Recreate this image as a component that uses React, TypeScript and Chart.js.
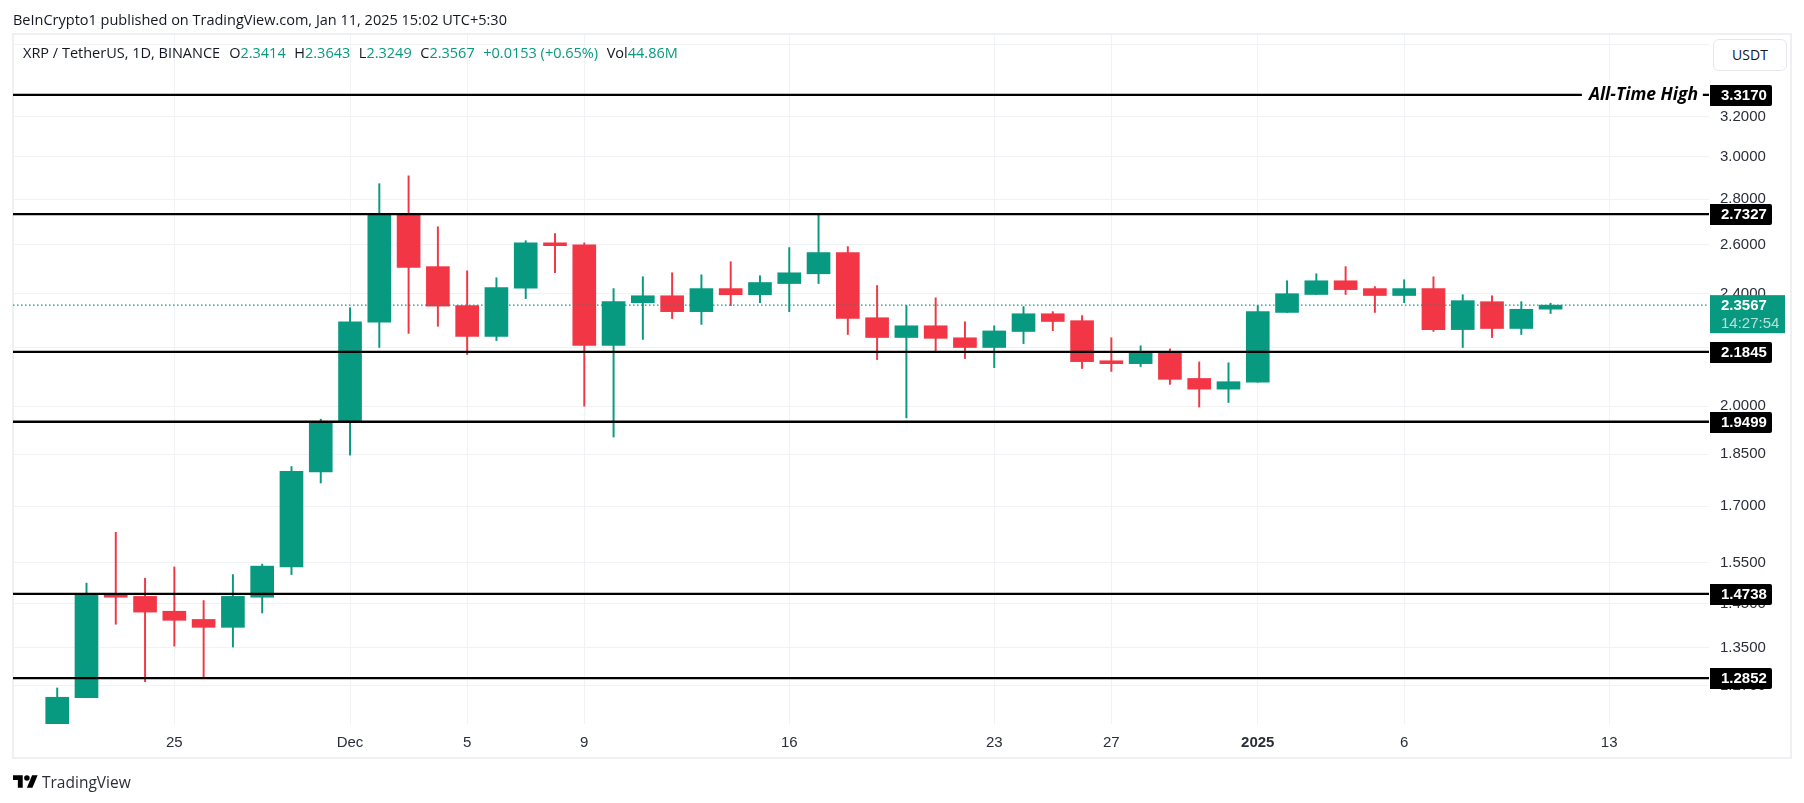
import { useEffect, useRef } from "react";
import { Chart, registerables } from "chart.js";

Chart.register(...registerables);

const GREEN = "#089981";
const RED = "#F23645";
const TEXT = "#131722";
const AXIS_TEXT = "#2a2e39";
const GRID = "#f0f2f6";
const UI_FONT = "'Open Sans', sans-serif";
const AXIS_FONT = "'Liberation Sans', Arial, sans-serif";

// daily candles, index 0 = Nov 21 2024
const opens = [1.185, 1.245, 1.474, 1.468, 1.433, 1.414, 1.396, 1.466, 1.54, 1.797, 1.953, 2.292, 2.73, 2.509, 2.355, 2.24, 2.423, 2.608, 2.6, 2.207, 2.366, 2.393, 2.332, 2.421, 2.397, 2.441, 2.48, 2.567, 2.309, 2.236, 2.279, 2.235, 2.2, 2.258, 2.324, 2.298, 2.153, 2.143, 2.1845, 2.092, 2.056, 2.079, 2.329, 2.398, 2.452, 2.421, 2.394, 2.421, 2.265, 2.37, 2.269, 2.3414];
const highs = [1.265, 1.5, 1.629, 1.512, 1.54, 1.458, 1.521, 1.547, 1.813, 1.958, 2.347, 2.871, 2.908, 2.677, 2.492, 2.464, 2.617, 2.647, 2.608, 2.421, 2.468, 2.484, 2.476, 2.529, 2.472, 2.588, 2.7285, 2.592, 2.433, 2.355, 2.385, 2.294, 2.279, 2.351, 2.332, 2.317, 2.235, 2.206, 2.195, 2.149, 2.146, 2.355, 2.452, 2.48, 2.509, 2.429, 2.456, 2.468, 2.397, 2.393, 2.37, 2.3643];
const lows = [1.18, 1.245, 1.403, 1.278, 1.354, 1.287, 1.352, 1.429, 1.521, 1.765, 1.847, 2.2, 2.251, 2.277, 2.175, 2.225, 2.382, 2.485, 2.0, 1.902, 2.229, 2.306, 2.284, 2.355, 2.366, 2.332, 2.441, 2.247, 2.157, 1.962, 2.188, 2.161, 2.129, 2.214, 2.261, 2.126, 2.116, 2.133, 2.072, 1.997, 2.012, 2.079, 2.329, 2.398, 2.398, 2.329, 2.366, 2.258, 2.2, 2.236, 2.247, 2.3249];
const closes = [1.246, 1.472, 1.466, 1.431, 1.412, 1.396, 1.468, 1.542, 1.799, 1.948, 2.294, 2.73, 2.506, 2.353, 2.24, 2.425, 2.608, 2.596, 2.207, 2.37, 2.393, 2.332, 2.421, 2.397, 2.445, 2.484, 2.567, 2.306, 2.236, 2.279, 2.233, 2.2, 2.26, 2.324, 2.295, 2.15, 2.143, 2.181, 2.089, 2.056, 2.081, 2.332, 2.401, 2.452, 2.417, 2.394, 2.421, 2.265, 2.374, 2.269, 2.341, 2.3567];

const priceTicks = [3.6, 3.2, 3.0, 2.8, 2.6, 2.4, 2.2, 2.0, 1.85, 1.7, 1.55, 1.45, 1.35, 1.27];
const dayTicks = [4, 10, 14, 18, 25, 32, 36, 41, 46, 53];
const dayNames = ["25", "Dec", "5", "9", "16", "23", "27", "2025", "6", "13"];

const levels = [3.317, 2.7327, 2.1845, 1.9499, 1.4738, 1.2852];
const lastPrice = 2.3567;
const countdown = "14:27:54";

// visible window of the axes
const xMin = -1.51;
const xMax = 56.41;
const yMin = 1.193;
const yMax = 3.662;

// the all-time-high line is broken around its caption
const athGapStart = 52.07;
const athGapEnd = 56.2;

const legendParts = [
  { text: "O", color: TEXT, gap: 9 },
  { text: "2.3414", color: GREEN, gap: 0 },
  { text: "H", color: TEXT, gap: 8.6 },
  { text: "2.3643", color: GREEN, gap: 0 },
  { text: "L", color: TEXT, gap: 8.6 },
  { text: "2.3249", color: GREEN, gap: 0 },
  { text: "C", color: TEXT, gap: 8.6 },
  { text: "2.3567", color: GREEN, gap: 0 },
  { text: "+0.0153 (+0.65%)", color: GREEN, gap: 8.6 },
  { text: "Vol", color: TEXT, gap: 8.6 },
  { text: "44.86M", color: GREEN, gap: 0 },
];

const tagsPlugin = {
  id: "tags",
  beforeDraw(chart: any) {
    const { ctx } = chart;
    ctx.save();
    ctx.strokeStyle = "#eef0f3";
    ctx.lineWidth = 2;
    ctx.strokeRect(13, 34, 1778, 724);
    ctx.restore();
  },
  afterDraw(chart: any) {
    const { ctx, scales } = chart;
    const y = scales.y;
    const x = scales.x;
    const left = x.right + 1;
    ctx.save();
    ctx.textBaseline = "middle";

    ctx.fillStyle = GREEN;
    const lastY = y.getPixelForValue(lastPrice);
    ctx.fillRect(left, lastY - 10, 75, 38);
    ctx.font = `bold 15px ${AXIS_FONT}`;
    ctx.fillStyle = "#ffffff";
    ctx.fillText(lastPrice.toFixed(4), left + 11, lastY + 1);
    ctx.font = `15px ${AXIS_FONT}`;
    ctx.fillStyle = "rgba(255,255,255,0.7)";
    ctx.fillText(countdown, left + 11, lastY + 19);

    levels.forEach((v) => {
      const py = Math.round(y.getPixelForValue(v));
      ctx.fillStyle = "#000000";
      ctx.beginPath();
      ctx.roundRect(left, py - 10, 62, 21, [0, 2, 2, 0]);
      ctx.fill();
      ctx.font = `bold 15px ${AXIS_FONT}`;
      ctx.fillStyle = "#ffffff";
      ctx.fillText(v.toFixed(4), left + 11, py + 1);
    });

    ctx.font = `italic bold 17.5px ${UI_FONT}`;
    ctx.fillStyle = "#000000";
    ctx.fillText("All-Time High", x.getPixelForValue(athGapStart) + 7, y.getPixelForValue(levels[0]));
    ctx.restore();
  },
};

export default function App() {
  const canvasRef = useRef<HTMLCanvasElement | null>(null);

  useEffect(() => {
    if (!canvasRef.current) return;

    const colors = closes.map((c, i) => (c >= opens[i] ? GREEN : RED));
    const levelLine = (v: number, from: number, to: number) => ({
      type: "line" as const,
      data: [{ x: from, y: v }, { x: to, y: v }],
      borderColor: "#000000",
      borderWidth: 2.3,
      pointRadius: 0,
      order: 0,
    });

    const chart = new Chart(canvasRef.current, {
      type: "bar",
      data: {
        datasets: [
          ...levels.slice(1).map((v) => levelLine(v, xMin, xMax)),
          levelLine(levels[0], xMin, athGapStart),
          levelLine(levels[0], athGapEnd, xMax),
          {
            type: "line" as const,
            data: [{ x: xMin, y: lastPrice }, { x: xMax, y: lastPrice }],
            borderColor: GREEN,
            borderWidth: 1.2,
            borderDash: [1.5, 2.5],
            pointRadius: 0,
            order: 1,
          },
          {
            data: opens.map((o, i) => ({ x: i, y: [o, closes[i]] })),
            backgroundColor: colors,
            barThickness: 23,
            grouped: false,
            order: 2,
          },
          {
            data: lows.map((l, i) => ({ x: i, y: [l, highs[i]] })),
            backgroundColor: colors,
            barThickness: 1.3,
            grouped: false,
            order: 3,
          },
        ] as any,
      },
      options: {
        responsive: false,
        animation: false,
        devicePixelRatio: 1,
        layout: { padding: { left: 13, top: 34, right: 13, bottom: 45 } },
        plugins: { legend: { display: false }, tooltip: { enabled: false } },
        scales: {
          x: {
            type: "linear",
            offset: false,
            min: xMin,
            max: xMax,
            afterBuildTicks: (s: any) => {
              s.ticks = dayTicks.map((value) => ({ value }));
            },
            afterFit: (s: any) => {
              s.height = 34;
            },
            grid: { color: GRID, drawTicks: false, offset: false },
            border: { display: false },
            ticks: {
              autoSkip: false,
              maxRotation: 0,
              padding: 10,
              color: AXIS_TEXT,
              font: (c: any) => ({
                family: AXIS_FONT,
                size: 15,
                weight: c.tick?.value === 41 ? "bold" : "normal",
              }),
              callback: (v: any) => dayNames[dayTicks.indexOf(Number(v))],
            },
          },
          y: {
            type: "logarithmic",
            position: "right",
            min: yMin,
            max: yMax,
            afterBuildTicks: (s: any) => {
              s.ticks = priceTicks.map((value) => ({ value }));
            },
            afterFit: (s: any) => {
              s.width = 82;
            },
            grid: { color: GRID, drawTicks: false },
            border: { display: false },
            ticks: {
              autoSkip: false,
              padding: 11,
              crossAlign: "near",
              color: AXIS_TEXT,
              font: { family: AXIS_FONT, size: 15 },
              callback: (v: any) => Number(v).toFixed(4),
            },
          },
        },
      } as any,
      plugins: [tagsPlugin],
    });

    return () => chart.destroy();
  }, []);

  return (
    <div style={{ position: "fixed", left: 0, top: 0, width: 1804, height: 803, background: "#fff", overflow: "hidden" }}>
      <canvas ref={canvasRef} width={1804} height={803} style={{ display: "block", width: 1804, height: 803 }} />
      <div style={{ position: "absolute", left: 13, top: 10, fontFamily: UI_FONT, fontSize: 14.5, lineHeight: "20px", color: TEXT, whiteSpace: "nowrap" }}>
        BeInCrypto1 published on TradingView.com, Jan 11, 2025 15:02 UTC+5:30
      </div>
      <div style={{ position: "absolute", left: 23, top: 43, fontFamily: UI_FONT, fontSize: 14.5, lineHeight: "20px", color: TEXT, whiteSpace: "nowrap" }}>
        <span>XRP / TetherUS, 1D, BINANCE</span>
        {legendParts.map((p, i) => (
          <span key={i} style={{ color: p.color, marginLeft: p.gap }}>{p.text}</span>
        ))}
      </div>
      <div style={{ position: "absolute", left: 1713, top: 39, width: 72, height: 30, border: "1px solid #e4e6eb", borderRadius: 6, background: "#fff", fontFamily: UI_FONT, fontSize: 14, lineHeight: "30px", color: TEXT, textAlign: "center" }}>
        USDT
      </div>
      <svg style={{ position: "absolute", left: 13, top: 775 }} width="25" height="13" viewBox="0 0 36 18">
        <path d="M14 18H7V7H0V0h14v18ZM28 18h-8L27.5 0h8L28 18Z" fill="#000" />
        <circle cx="20" cy="4" r="4" fill="#000" />
      </svg>
      <div style={{ position: "absolute", left: 42, top: 771, fontFamily: UI_FONT, fontSize: 15.5, lineHeight: "22px", color: "#2a2e39" }}>
        TradingView
      </div>
    </div>
  );
}
